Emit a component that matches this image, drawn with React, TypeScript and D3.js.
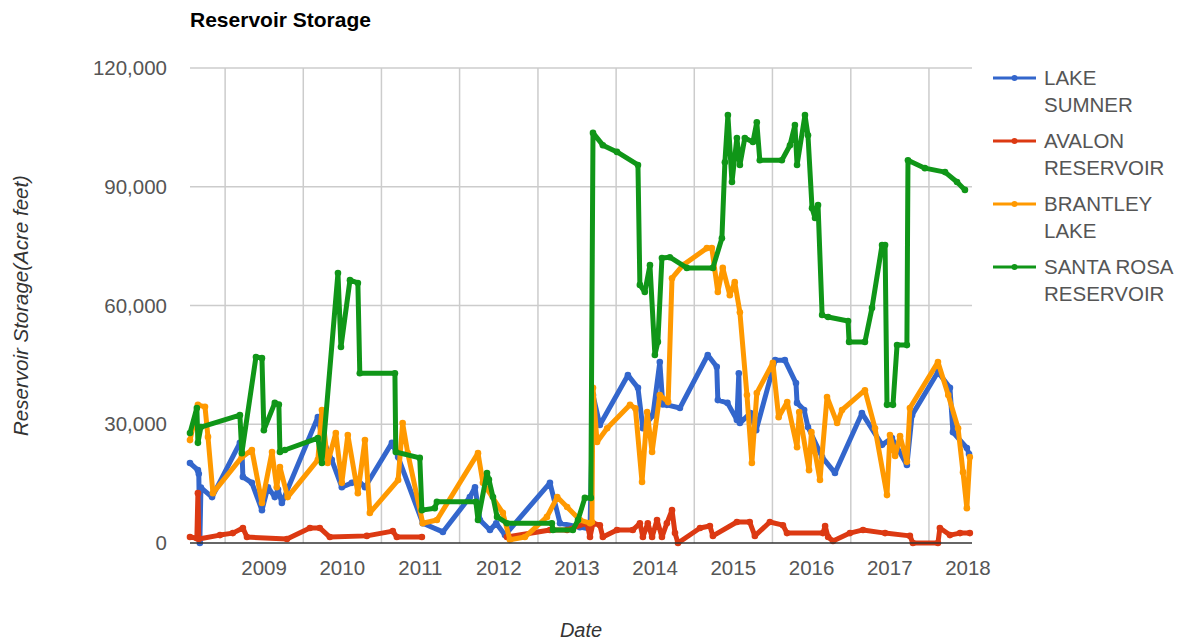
import * as d3 from 'd3';

type Pt = [string, number | null];

// Reservoir storage readings (acre feet)
const lakeSumner: Pt[] = [
  ['2008-07-21', 20200], ['2008-08-27', 18400], ['2008-08-31', 17500], ['2008-09-05', 0],
  ['2008-09-10', 14000], ['2008-11-01', 11600], ['2009-03-11', 25300], ['2009-03-20', 24500],
  ['2009-03-25', 16700], ['2009-05-06', 15200], ['2009-06-22', 8300], ['2009-07-20', 14100],
  ['2009-08-21', 11600], ['2009-09-05', 13500], ['2009-09-23', 10100], ['2010-03-10', 31800],
  ['2010-03-29', 26800], ['2010-05-14', 21000], ['2010-06-30', 14100], ['2010-08-16', 15200],
  ['2010-09-13', 15900], ['2010-10-16', 14100], ['2011-02-19', 25300], ['2011-03-20', 21700],
  ['2011-07-13', 5000], ['2011-10-15', 2800], ['2012-02-18', 11600], ['2012-03-13', 14100],
  ['2012-04-05', 5800], ['2012-05-22', 3300], ['2012-06-20', 5000], ['2012-07-31', 2000],
  ['2013-02-26', 15200], ['2013-04-14', 5000], ['2013-07-16', 4000], ['2013-09-01', 3500],
  ['2013-09-15', 37400], ['2013-10-17', 29800], ['2014-02-25', 42400], ['2014-04-13', 39200],
  ['2014-05-06', 29000], ['2014-06-22', 32300], ['2014-07-24', 45700], ['2014-08-07', 35000],
  ['2014-08-26', 34900], ['2014-10-26', 34100], ['2015-03-05', 47500], ['2015-04-16', 44500],
  ['2015-04-21', 36100], ['2015-06-05', 35400], ['2015-07-19', 31100], ['2015-07-28', 42900],
  ['2015-08-02', 30300], ['2015-09-20', 32800], ['2015-10-17', 28500], ['2016-01-14', 46200],
  ['2016-02-28', 46200], ['2016-04-20', 40400], ['2016-04-25', 35400], ['2016-05-28', 33600],
  ['2016-06-15', 29300], ['2016-08-20', 21700], ['2016-10-19', 17700], ['2017-02-22', 32800],
  ['2017-05-27', 24800], ['2017-07-12', 26500], ['2017-09-20', 19700], ['2017-10-14', 32300],
  ['2018-02-12', 43200], ['2018-04-09', 39200], ['2018-04-23', 28000], ['2018-06-27', 24000],
  ['2018-07-07', 22500],
];

const avalonReservoir: Pt[] = [
  ['2008-07-21', 1500], ['2008-08-22', 1200], ['2008-08-27', 12600], ['2008-08-31', 1000],
  ['2008-12-08', 2000], ['2009-02-06', 2500], ['2009-03-25', 3800], ['2009-04-13', 1500],
  ['2009-10-17', 1000], ['2010-02-01', 3800], ['2010-03-19', 3800], ['2010-05-05', 1500],
  ['2010-10-25', 1800], ['2011-02-23', 3000], ['2011-03-14', 1500], ['2011-07-09', 1500],
  ['2011-12-01', null],
  ['2012-08-09', 1500], ['2013-02-26', 3300], ['2013-05-17', 3300], ['2013-08-18', 5000],
  ['2013-09-01', 1500], ['2013-09-15', 5000], ['2013-10-17', 4500], ['2013-10-31', 1500],
  ['2014-01-05', 3300], ['2014-03-20', 3300], ['2014-04-22', 5000], ['2014-05-06', 1500],
  ['2014-05-29', 5000], ['2014-06-18', 1500], ['2014-07-11', 5800], ['2014-08-03', 1500],
  ['2014-08-26', 5000], ['2014-09-19', 8300], ['2014-10-03', 2500], ['2014-10-17', 0],
  ['2015-01-28', 3800], ['2015-03-15', 4300], ['2015-03-29', 1800], ['2015-07-19', 5300],
  ['2015-09-17', 5300], ['2015-10-11', 1800], ['2015-12-20', 5300], ['2016-02-19', 4500],
  ['2016-03-09', 2500], ['2016-08-24', 2500], ['2016-09-03', 4300], ['2016-09-17', 1500],
  ['2016-10-10', 500], ['2016-12-28', 2500], ['2017-02-27', 3300], ['2017-06-10', 2500],
  ['2017-10-04', 1800], ['2017-10-18', 0], ['2018-02-12', 0], ['2018-02-21', 3800],
  ['2018-04-09', 2000], ['2018-05-26', 2500], ['2018-07-11', 2500],
];

const brantleyLake: Pt[] = [
  ['2008-07-21', 26000], ['2008-08-27', 34900], ['2008-09-29', 34400], ['2008-10-13', 26800],
  ['2008-11-05', 12600], ['2009-03-20', 21700], ['2009-05-06', 23500], ['2009-06-22', 10100],
  ['2009-08-08', 23000], ['2009-08-30', 14100], ['2009-09-14', 19200], ['2009-10-20', 11600],
  ['2010-03-10', 21000], ['2010-03-29', 33600], ['2010-04-25', 20200], ['2010-06-02', 27800],
  ['2010-06-30', 15200], ['2010-07-28', 27300], ['2010-09-13', 12600], ['2010-10-16', 26000],
  ['2010-11-08', 7600], ['2011-03-20', 15900], ['2011-04-10', 30300], ['2011-05-04', 22700],
  ['2011-07-13', 5000], ['2011-09-17', 5800],
  ['2012-03-27', 22700], ['2012-04-19', 15200], ['2012-07-21', 7600], ['2012-08-23', 800],
  ['2012-11-01', 1500], ['2013-02-12', 6600], ['2013-04-01', 11600], ['2013-05-17', 9100],
  ['2013-07-16', 5800], ['2013-09-01', 5000], ['2013-09-10', 5300], ['2013-09-15', 39200],
  ['2013-10-04', 25500], ['2013-11-20', 29000], ['2014-03-07', 34900], ['2014-04-01', 34000],
  ['2014-05-02', 15400], ['2014-05-26', 33100], ['2014-06-18', 23000], ['2014-07-24', 37400],
  ['2014-09-01', 35600], ['2014-09-19', 66900], ['2014-11-09', 70200], ['2015-03-01', 74500],
  ['2015-03-24', 74500], ['2015-04-21', 63400], ['2015-05-14', 69500], ['2015-06-16', 62600],
  ['2015-07-09', 65900], ['2015-08-02', 58300], ['2015-09-04', 37400], ['2015-09-27', 20200],
  ['2015-10-20', 37900], ['2016-01-03', 45500], ['2016-01-30', 31800], ['2016-03-10', 35600],
  ['2016-04-25', 24200], ['2016-05-05', 33100], ['2016-06-20', 18400], ['2016-07-01', 28000],
  ['2016-08-10', 15900], ['2016-09-12', 36900], ['2016-10-29', 30300], ['2016-11-21', 33600],
  ['2017-03-08', 38600], ['2017-04-24', 29000],
  ['2017-06-19', 12100], ['2017-07-03', 27300], ['2017-07-27', 22000], ['2017-08-19', 27000],
  ['2017-09-20', 20500], ['2017-10-04', 34100], ['2018-02-12', 45700], ['2018-04-01', 37400],
  ['2018-05-17', 29000], ['2018-06-09', 17900], ['2018-06-27', 8800], ['2018-07-11', 21700],
];

const santaRosaReservoir: Pt[] = [
  ['2008-07-21', 27800], ['2008-08-22', 34100], ['2008-08-27', 25300], ['2008-09-10', 29300],
  ['2009-03-11', 32300], ['2009-03-20', 22700], ['2009-05-25', 47000], ['2009-06-22', 46700],
  ['2009-07-01', 28500], ['2009-08-21', 35400], ['2009-09-09', 35000], ['2009-09-14', 23000],
  ['2009-10-07', 23500], ['2010-03-10', 26500], ['2010-03-29', 20200], ['2010-06-12', 68200],
  ['2010-06-26', 49500], ['2010-08-07', 66400], ['2010-09-13', 65700], ['2010-09-22', 42900],
  ['2011-03-05', 42900], ['2011-03-09', 23000], ['2011-06-29', 21500], ['2011-07-09', 8300],
  ['2011-09-07', 8800], ['2011-09-17', 10400], ['2012-03-17', 10400], ['2012-03-27', 5800],
  ['2012-05-08', 17700], ['2012-05-17', 16000], ['2012-06-05', 11600], ['2012-06-24', 6600],
  ['2012-08-09', 5000], ['2013-03-07', 5000], ['2013-03-12', 3300], ['2013-06-13', 3300],
  ['2013-07-07', 5800], ['2013-08-08', 11400], ['2013-09-05', 11400], ['2013-09-15', 103600],
  ['2013-10-31', 100500], ['2014-01-05', 98800], ['2014-04-13', 95500], ['2014-04-22', 65200],
  ['2014-05-15', 63400], ['2014-06-08', 70200], ['2014-07-01', 47500], ['2014-07-15', 50800],
  ['2014-08-03', 72000], ['2014-09-09', 72200], ['2014-11-27', 69500], ['2015-03-29', 69500],
  ['2015-05-10', 77000], ['2015-05-24', 96200], ['2015-06-07', 108100], ['2015-06-26', 91200],
  ['2015-07-19', 102300], ['2015-08-02', 95500], ['2015-08-25', 102300], ['2015-10-02', 101300],
  ['2015-10-20', 106300], ['2015-11-03', 96700], ['2016-02-14', 96700], ['2016-03-23', 100500],
  ['2016-04-15', 105600], ['2016-04-25', 95500], ['2016-06-01', 108100], ['2016-06-15', 103000],
  ['2016-07-04', 84600], ['2016-07-18', 82100], ['2016-08-01', 85400], ['2016-08-20', 57600],
  ['2016-09-17', 57100], ['2016-12-19', 56100], ['2016-12-24', 50800], ['2017-03-08', 50800],
  ['2017-04-10', 59400], ['2017-05-27', 75300], ['2017-06-10', 75300], ['2017-06-19', 34900],
  ['2017-07-17', 34900], ['2017-08-05', 50000], ['2017-09-20', 50000], ['2017-09-25', 96700],
  ['2017-12-13', 94700], ['2018-03-17', 93700], ['2018-05-12', 91200], ['2018-06-18', 89200],
];

const seriesNames = [['LAKE', 'SUMNER'], ['AVALON', 'RESERVOIR'], ['BRANTLEY', 'LAKE'], ['SANTA ROSA', 'RESERVOIR']];
const seriesColors = ['#3366cc', '#dc3912', '#ff9900', '#109618'];
const seriesData = [lakeSumner, avalonReservoir, brantleyLake, santaRosaReservoir];
const yTickValues = [0, 30000, 60000, 90000, 120000];
const years = [2009, 2010, 2011, 2012, 2013, 2014, 2015, 2016, 2017, 2018];

const FONT = 'Liberation Sans, Arial, sans-serif';

export default function App() {
  const width = 1186;
  const height = 642;
  const plot = { left: 190, right: 972, top: 68, bottom: 543 };

  const parse = d3.timeParse('%Y-%m-%d');
  const x = d3.scaleTime()
    .domain([new Date(2008, 6, 21), new Date(2018, 6, 21)])
    .range([plot.left, plot.right]);
  const y = d3.scaleLinear().domain([0, 120000]).range([plot.bottom, plot.top]);

  const line = d3.line<Pt>()
    .defined((d) => d[1] != null)
    .x((d) => x(parse(d[0])!))
    .y((d) => y(d[1] as number));

  const fmt = d3.format(',');

  return (
    <svg width={width} height={height} style={{ position: 'absolute', left: 0, top: 0, background: '#fff' }}>
      <text x={plot.left} y={27} fontFamily={FONT} fontSize={21} fontWeight="bold" fill="#000">
        Reservoir Storage
      </text>

      {/* gridlines */}
      {yTickValues.filter((v) => v > 0).map((v) => (
        <line key={v} x1={plot.left} x2={plot.right} y1={y(v)} y2={y(v)} stroke="#cccccc" strokeWidth={1.5} />
      ))}
      {years.map((yr) => (
        <line key={yr} x1={x(new Date(yr, 0, 1))} x2={x(new Date(yr, 0, 1))} y1={plot.top} y2={plot.bottom}
          stroke="#cccccc" strokeWidth={1.5} />
      ))}

      {/* y tick labels */}
      {yTickValues.map((v) => (
        <text key={v} x={167} y={y(v) + 7} textAnchor="end" fontFamily={FONT} fontSize={20.5} fill="#555">
          {fmt(v)}
        </text>
      ))}
      {/* x tick labels */}
      {years.map((yr) => (
        <text key={yr} x={x(new Date(yr, 6, 2))} y={575} textAnchor="middle" fontFamily={FONT} fontSize={20.5} fill="#555">
          {yr}
        </text>
      ))}

      {/* series */}
      {seriesData.map((data, i) => (
        <g key={i}>
          <path d={line(data) || ''} fill="none" stroke={seriesColors[i]} strokeWidth={5} strokeLinejoin="round"
            strokeLinecap="round" />
          {data.filter((d) => d[1] != null).map((d, j) => (
            <circle key={j} cx={x(parse(d[0])!)} cy={y(d[1] as number)} r={3.3} fill={seriesColors[i]} />
          ))}
        </g>
      ))}

      {/* baseline */}
      <line x1={plot.left} x2={plot.right} y1={y(0)} y2={y(0)} stroke="#333" strokeWidth={1.5} />

      {/* axis titles */}
      <text x={(plot.left + plot.right) / 2} y={637} textAnchor="middle" fontFamily={FONT} fontSize={20}
        fontStyle="italic" fill="#333">
        Date
      </text>
      <text transform={`translate(28, ${(plot.top + plot.bottom) / 2}) rotate(-90)`} textAnchor="middle"
        fontFamily={FONT} fontSize={20.5} fontStyle="italic" fill="#333">
        Reservoir Storage(Acre feet)
      </text>

      {/* legend */}
      {seriesNames.map((lines, i) => {
        const cy = 78 + i * 63;
        return (
          <g key={i}>
            <line x1={993} x2={1036} y1={cy} y2={cy} stroke={seriesColors[i]} strokeWidth={3} />
            <circle cx={1014.5} cy={cy} r={3} fill={seriesColors[i]} />
            {lines.map((t, k) => (
              <text key={k} x={1044} y={cy + 7 + k * 27} fontFamily={FONT} fontSize={20.5} fill="#555">
                {t}
              </text>
            ))}
          </g>
        );
      })}
    </svg>
  );
}
